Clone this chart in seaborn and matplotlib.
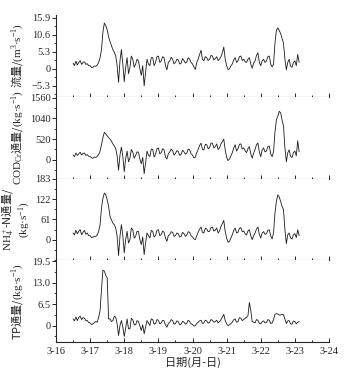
import numpy as np
import pandas as pd
import matplotlib
matplotlib.use('Agg')
import matplotlib.pyplot as plt
import matplotlib.ticker as mticker
import seaborn as sns

# hourly samples, 3-16 12:00 .. 3-23 03:00
times = pd.date_range('2016-03-16 12:00', periods=160, freq='h')

flow = [1.8, 1.0, 2.4, 1.2, 2.0, 2.6, 1.4, 2.0, 2.2, 1.4,
        1.6, 1.0, 1.0, 0.4, 0.5, 0.9, 0.8, 1.2, 2.0, 3.5,
        6.0, 11.5, 14.3, 13.5, 12.2, 10.0, 8.5, 7.2, 6.0, 5.2,
        4.0, 1.0, -4.2, 2.5, 6.0, 1.5, -4.0, 0.5, 3.5, -1.5,
        0.5, 4.0, 3.0, 0.5, 1.5, 3.0, 2.5, 0.0, -2.0, 1.0,
        -5.3, -1.0, 3.0, 1.5, 1.0, 3.5, 3.5, 1.0, 2.0, 3.8,
        4.0, 2.0, 2.5, 3.8, 3.5, 1.0, -0.3, 2.0, 2.5, 3.6,
        3.0, 1.6, 2.0, 3.0, 2.8, 1.5, 1.8, 3.2, 2.6, 1.8,
        2.2, 3.5, 3.0, 2.0, 1.5, 0.6, -0.2, 2.0, 3.0, 4.5,
        5.8, 3.0, 2.5, 3.8, 3.5, 2.6, 3.0, 4.2, 4.0, 2.8,
        3.2, 3.8, 2.6, 3.0, 3.8, 5.0, 6.8, 3.0, 1.0, -0.2,
        0.0, 1.0, 1.5, 2.8, 3.5, 2.0, 2.5, 3.8, 4.0, 2.6,
        3.0, 2.2, 2.0, 3.0, 3.5, 1.5, 0.2, 1.8, 2.5, 4.2,
        5.0, 2.0, 1.0, 2.5, 3.0, 2.0, 2.5, 3.8, 4.0, 1.5,
        0.6, 1.5, 8.0, 12.0, 12.8, 12.0, 11.0, 9.5, 8.0, 3.0,
        -0.3, 2.0, 3.0, 0.8, 0.5, 2.0, 2.5, 1.0, 4.5, 2.0]

cod = [120, 80, 170, 110, 150, 190, 120, 160, 170, 110,
       130, 90, 80, 50, 40, 70, 60, 90, 130, 220,
       380, 560, 690, 650, 600, 560, 520, 470, 400, 350,
       280, 100, -260, 120, 320, 80, -300, 30, 220, -50,
       50, 260, 200, 40, 110, 200, 190, 20, -100, 60,
       -350, -80, 220, 120, 80, 270, 260, 70, 140, 280,
       300, 150, 180, 280, 250, 70, 20, 150, 200, 270,
       230, 120, 160, 230, 210, 110, 140, 240, 200, 140,
       170, 270, 250, 150, 120, 50, 60, 180, 260, 360,
       420, 260, 250, 390, 380, 280, 300, 420, 420, 300,
       330, 400, 260, 300, 400, 460, 520, 250, 60, -20,
       20, 100, 180, 300, 380, 220, 280, 390, 400, 270,
       300, 230, 180, 280, 330, 150, 40, 170, 260, 380,
       420, 200, 80, 250, 300, 200, 220, 330, 350, 150,
       80, 200, 700, 1000, 1100, 1220, 1180, 1000, 850, 300,
       -50, 180, 250, 80, 60, 180, 220, 100, 480, 200]

nh4 = [20, 14, 28, 18, 25, 30, 15, 22, 28, 16,
       20, 12, 12, 6, 8, 10, 10, 14, 25, 45,
       95, 125, 140, 135, 120, 100, 70, 60, 50, 45,
       35, 10, -48, 10, 45, 12, -40, 0, 25, -10,
       0, 35, 30, 5, 10, 25, 25, 0, -15, 8,
       -45, -10, 20, 12, 5, 28, 25, 8, 12, 28,
       30, 12, 15, 26, 22, 5, -5, 12, 15, 24,
       22, 10, 12, 20, 18, 8, 10, 22, 18, 10,
       14, 24, 22, 12, 8, 2, 0, 12, 22, 32,
       38, 22, 20, 34, 32, 24, 25, 36, 38, 26,
       28, 35, 20, 26, 40, 48, 58, 25, 5, -8,
       -5, 5, 15, 28, 35, 20, 22, 34, 36, 24,
       26, 18, 14, 26, 30, 12, 0, 12, 20, 32,
       38, 16, 5, 20, 24, 16, 18, 28, 30, 12,
       2, 20, 80, 115, 135, 128, 115, 100, 90, 30,
       -12, 15, 20, 5, 2, 15, 18, 6, 30, 12]

tp = [2.0, 1.4, 2.6, 1.5, 2.5, 2.8, 1.8, 2.4, 2.2, 1.5,
      1.5, 0.9, 0.8, 0.3, 0.5, 0.9, 1.2, 1.0, 2.5, 4.5,
      11.0, 16.8, 16.5, 15.2, 14.5, 2.0, 2.0, 1.2, 1.5, 2.8,
      2.5, 0.5, -3.0, 0.0, 1.5, -0.5, -3.3, -0.8, 2.0, -1.0,
      -1.0, 2.2, 1.8, 0.2, 0.2, 1.5, 1.2, -0.2, -1.5, 0.2,
      -2.5, -0.5, 1.5, 0.8, 0.0, 2.0, 1.8, 0.4, 0.6, 1.8,
      1.6, 0.5, 0.8, 1.6, 1.4, 0.2, -0.5, 0.6, 1.0, 1.8,
      1.5, 0.4, 0.6, 1.4, 1.2, 0.2, 0.4, 1.3, 1.0, 0.4,
      0.7, 1.6, 1.2, 0.5, 0.3, -0.2, 0.0, 0.6, 1.0, 1.4,
      1.6, 0.6, 0.8, 1.6, 1.4, 0.7, 1.0, 1.8, 1.6, 1.0,
      1.2, 1.6, 0.8, 1.2, 1.8, 2.5, 3.4, 1.5, 0.5, 0.0,
      0.2, 0.6, 1.0, 1.8, 2.0, 1.0, 1.2, 2.4, 2.2, 1.5,
      1.8, 2.2, 2.5, 3.0, 7.0, 4.5, 1.2, 1.0, 0.8, 1.8,
      1.6, 0.6, 0.5, 1.2, 1.4, 0.8, 0.9, 1.8, 1.6, 0.6,
      0.8, 1.8, 3.4, 3.6, 3.5, 3.2, 3.2, 3.4, 3.3, 2.0,
      0.6, 1.4, 1.5, 0.5, 0.4, 1.4, 1.2, 0.5, 1.0, 1.2]

ylabels = ['流量/$\\mathrm{(m^3·s^{-1})}$',
           '$\\mathrm{COD_{Cr}}$通量/$\\mathrm{(kg·s^{-1})}$',
           '$\\mathrm{NH_4^+}$-N通量/\n$\\mathrm{(kg·s^{-1})}$',
           'TP通量/$\\mathrm{(kg·s^{-1})}$']
yticks = [[-5.3, 0, 5.3, 10.6, 15.9],
          [0, 520, 1040, 1560],
          [0, 61, 122, 183],
          [0, 6.5, 13.0, 19.5]]
yticklabels = [['\u22125.3', '0', '5.3', '10.6', '15.9'],
               ['0', '520', '1040', '1560'],
               ['0', '61', '122', '183'],
               ['0', '6.5', '13.0', '19.5']]
ylims = [(-8.7, 16.8), (-470, 1585), (-62, 184), (-5, 19.8)]

sns.set_style('ticks')
plt.rcParams['font.family'] = ['Liberation Serif', 'Noto Sans CJK SC', 'DejaVu Sans']
plt.rcParams['mathtext.fontset'] = 'custom'
plt.rcParams['mathtext.rm'] = 'Liberation Serif'
plt.rcParams['mathtext.it'] = 'Liberation Serif:italic'

df = pd.DataFrame({'t': times, 'flow': flow, 'cod': cod, 'nh4': nh4, 'tp': tp})

fig, axes = plt.subplots(4, 1, figsize=(3.5, 3.8), dpi=100, sharex=True)
fig.subplots_adjust(left=0.16, right=0.94, top=0.9605, bottom=0.1, hspace=0)

for i, (ax, col) in enumerate(zip(axes, ['flow', 'cod', 'nh4', 'tp'])):
    sns.lineplot(data=df, x='t', y=col, ax=ax, color='#1a1a1a', linewidth=0.6)
    ax.set_ylim(*ylims[i])
    ax.set_yticks(yticks[i])
    ax.set_yticklabels(yticklabels[i])
    step = yticks[i][1] - yticks[i][0]
    ax.yaxis.set_minor_locator(mticker.MultipleLocator(step / 2))
    ax.set_ylabel(ylabels[i], family='Noto Sans CJK SC', fontsize=8, labelpad=2)
    ax.yaxis.set_label_coords(-0.085 if i == 2 else -0.115, 0.5)
    for s in ['top', 'right']:
        ax.spines[s].set_visible(False)
    for s in ['left', 'bottom']:
        ax.spines[s].set_linewidth(0.8)
    ax.tick_params(axis='y', direction='out', length=3, width=0.7, labelsize=7.5, pad=1)
    ax.tick_params(axis='y', which='minor', direction='out', length=1.5, width=0.6)
    ax.tick_params(axis='x', which='both', direction='in', length=3, width=0.7, labelsize=7.5)
    ax.tick_params(axis='x', which='minor', length=1.5)
    ax.set_xlabel('')

days = pd.date_range('2016-03-16', periods=9, freq='D')
ax = axes[-1]
ax.set_xlim(days[0], days[-1])
ax.set_xticks(days)
ax.set_xticks(pd.date_range('2016-03-16 12:00', periods=8, freq='D'), minor=True)
ax.set_xticklabels([f'{d.month}-{d.day}' for d in days])
ax.set_xlabel('日期(月-日)', family='Noto Sans CJK SC', fontsize=8, labelpad=1)

fig.savefig('out.png', dpi=100)
